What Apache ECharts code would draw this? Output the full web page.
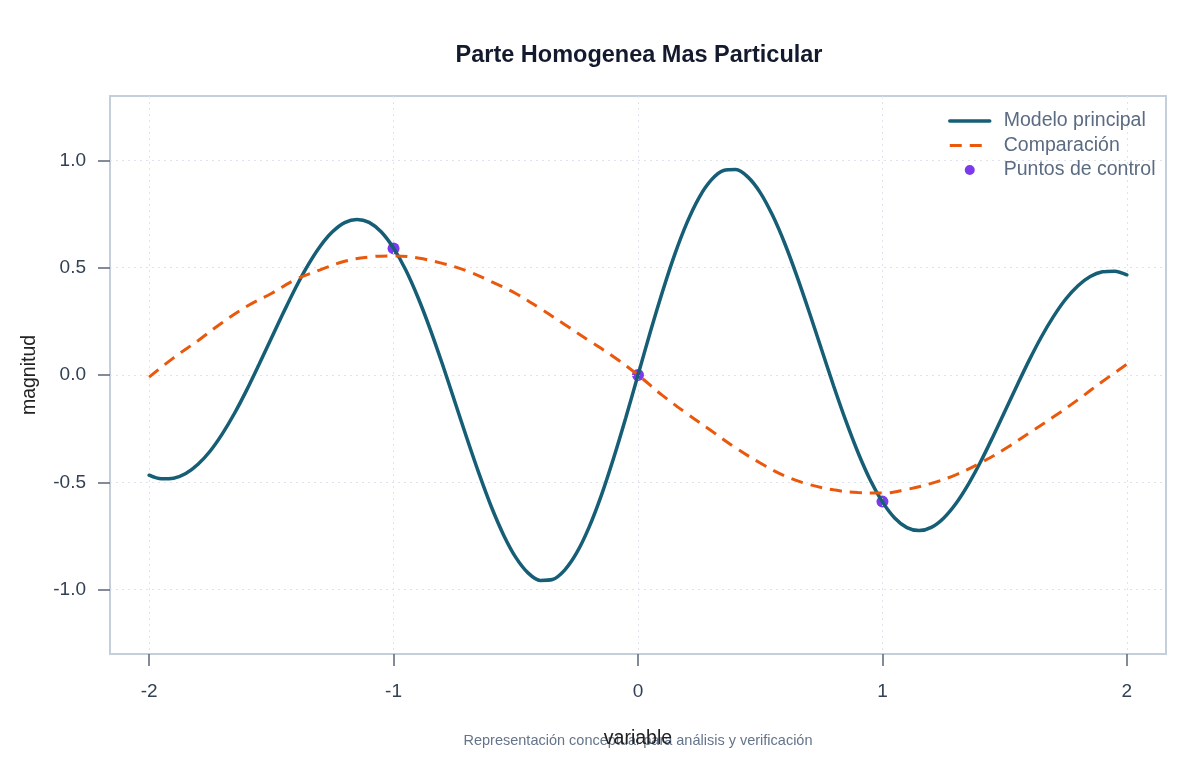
<!DOCTYPE html>
<html>
<head>
<meta charset="utf-8">
<title>Parte Homogenea Mas Particular</title>
<script src="https://cdn.jsdelivr.net/npm/echarts@6/dist/echarts.min.js"></script>
<style>
  html, body { margin:0; padding:0; background:#ffffff; }
  #chart { width:1200px; height:760px; }
</style>
</head>
<body>
<div id="chart"></div>
<script>
/* Main model vs comparison curve, with three control points. */
var MAIN_X = [-2.00,-1.95,-1.90,-1.85,-1.80,-1.75,-1.70,-1.65,-1.60,-1.55,-1.50,-1.45,-1.40,-1.35,-1.30,-1.25,-1.20,-1.15,-1.10,-1.05,
              -1.00,-0.95,-0.90,-0.85,-0.80,-0.75,-0.70,-0.65,-0.60,-0.55,-0.50,-0.45,-0.40,-0.35,-0.30,-0.25,-0.20,-0.15,-0.10,-0.05,
               0.00, 0.05, 0.10, 0.15, 0.20, 0.25, 0.30, 0.35, 0.40, 0.45, 0.50, 0.55, 0.60, 0.65, 0.70, 0.75, 0.80, 0.85, 0.90, 0.95,
               1.00, 1.05, 1.10, 1.15, 1.20, 1.25, 1.30, 1.35, 1.40, 1.45, 1.50, 1.55, 1.60, 1.65, 1.70, 1.75, 1.80, 1.85, 1.90, 1.95, 2.00];
var MAIN_Y = [-0.467,-0.484,-0.481,-0.459,-0.416,-0.354,-0.273,-0.177,-0.068, 0.050, 0.171, 0.292, 0.408, 0.512, 0.600, 0.667, 0.710, 0.725, 0.711, 0.666,
               0.591, 0.489, 0.361, 0.213, 0.050,-0.122,-0.295,-0.461,-0.614,-0.745,-0.850,-0.922,-0.957,-0.953,-0.909,-0.827,-0.709,-0.561,-0.388,-0.199,
               0.000, 0.199, 0.388, 0.561, 0.709, 0.827, 0.909, 0.953, 0.957, 0.922, 0.850, 0.745, 0.614, 0.461, 0.295, 0.122,-0.050,-0.213,-0.361,-0.489,
              -0.591,-0.666,-0.711,-0.725,-0.710,-0.667,-0.600,-0.512,-0.408,-0.292,-0.171,-0.050, 0.068, 0.177, 0.273, 0.354, 0.416, 0.459, 0.481, 0.484, 0.467];

var COMP_X = [-2.0,-1.9,-1.8,-1.7,-1.6,-1.5,-1.4,-1.3,-1.2,-1.1,-1.0,-0.9,-0.8,-0.7,-0.6,-0.5,-0.4,-0.3,-0.2,-0.1,
               0.0, 0.1, 0.2, 0.3, 0.4, 0.5, 0.6, 0.7, 0.8, 0.9, 1.0, 1.1, 1.2, 1.3, 1.4, 1.5, 1.6, 1.7, 1.8, 1.9, 2.0];
var COMP_Y = [-0.010, 0.080, 0.160, 0.245, 0.320, 0.380, 0.445, 0.490, 0.530, 0.550, 0.555, 0.545, 0.520, 0.485, 0.435, 0.380, 0.310, 0.235, 0.160, 0.085,
               0.000,-0.095,-0.180,-0.260,-0.340,-0.410,-0.470,-0.510,-0.535,-0.548,-0.550,-0.533,-0.505,-0.465,-0.410,-0.345,-0.270,-0.195,-0.115,-0.030, 0.050];

var CTRL_X = [-1, 0, 1];
var CTRL_Y = [0.59, 0.00, -0.59];

var X_TICKS = [-2, -1, 0, 1, 2];
var Y_TICKS = [-1, -0.5, 0, 0.5, 1];

var SERIES_NAMES = ['Modelo principal', 'Comparación', 'Puntos de control'];

function pairs(xs, ys){ return xs.map(function(x, i){ return [x, ys[i]]; }); }

var FONT = '"Liberation Sans", Arial, sans-serif';
var TICK_COLOR = '#5c6677';
var LABEL_COLOR = '#334155';
var GRID_LINE = { show:true, lineStyle:{ color:'#dfe4ec', width:1, type:[2,4] } };

var chart = echarts.init(document.getElementById('chart'), null, { renderer:'canvas' });

chart.setOption({
  backgroundColor:'#ffffff',
  animation:false,
  title:{
    text:'Parte Homogenea Mas Particular',
    left:634, top:39, textAlign:'center',
    textStyle:{ fontFamily:FONT, fontSize:23.5, fontWeight:'bold', color:'#141a2e' }
  },
  graphic:[{
    type:'text', x:638, y:741,
    style:{ text:'Representación conceptual para análisis y verificación',
            align:'center', verticalAlign:'middle',
            fontFamily:FONT, fontSize:14.5, fill:'#64748b' }
  }],
  legend:{
    orient:'vertical', left:943, top:106,
    itemWidth:40, itemHeight:10, itemGap:4.5,
    data:[
      { name:SERIES_NAMES[0], itemStyle:{ opacity:0 }, lineStyle:{ width:3.5 } },
      { name:SERIES_NAMES[1], itemStyle:{ opacity:0 }, lineStyle:{ width:3 } },
      { name:SERIES_NAMES[2], itemStyle:{ opacity:1 } }
    ],
    textStyle:{ fontFamily:FONT, fontSize:19.5, color:'#5b6b82', lineHeight:20, padding:[0,0,0,9] }
  },
  grid:{ left:110, right:34, top:96, bottom:106, show:true, borderColor:'#c5cedb', borderWidth:2, backgroundColor:'transparent' },
  xAxis:{
    type:'value', min:-2.16, max:2.16, z:3,
    name:'variable', nameLocation:'middle', nameGap:75,
    nameTextStyle:{ fontFamily:FONT, fontSize:19.5, color:'#222222' },
    axisLine:{ show:false, onZero:false },
    axisTick:{ show:true, length:12, customValues:X_TICKS, lineStyle:{ color:TICK_COLOR, width:1.5 } },
    axisLabel:{ customValues:X_TICKS, margin:28, fontFamily:FONT, fontSize:19, color:LABEL_COLOR },
    splitLine:GRID_LINE
  },
  yAxis:{
    type:'value', min:-1.3, max:1.3, z:3,
    name:'magnitud', nameLocation:'middle', nameGap:70,
    nameTextStyle:{ fontFamily:FONT, fontSize:19.5, color:'#222222' },
    axisLine:{ show:false, onZero:false },
    axisTick:{ show:true, length:12, customValues:Y_TICKS, lineStyle:{ color:TICK_COLOR, width:1.5 } },
    axisLabel:{ customValues:Y_TICKS, margin:24, fontFamily:FONT, fontSize:19, color:LABEL_COLOR,
                formatter:function(v){ return v.toFixed(1); } },
    splitLine:GRID_LINE
  },
  series:[
    {
      name:SERIES_NAMES[0], type:'line', data:pairs(MAIN_X, MAIN_Y),
      symbol:'none', smooth:0.3, clip:false,
      lineStyle:{ color:'#155e75', width:3.5, cap:'round' },
      itemStyle:{ color:'#155e75' }
    },
    {
      name:SERIES_NAMES[1], type:'line', data:pairs(COMP_X, COMP_Y),
      symbol:'none', smooth:0.4, clip:false,
      lineStyle:{ color:'#ea580c', width:3, type:[12,8] },
      itemStyle:{ color:'#ea580c' }
    },
    {
      name:SERIES_NAMES[2], type:'scatter', data:pairs(CTRL_X, CTRL_Y),
      symbol:'circle', symbolSize:12,
      itemStyle:{ color:'#7c3aed', opacity:1 }
    }
  ]
});

window.addEventListener('resize', function(){ chart.resize(); });
</script>
</body>
</html>
